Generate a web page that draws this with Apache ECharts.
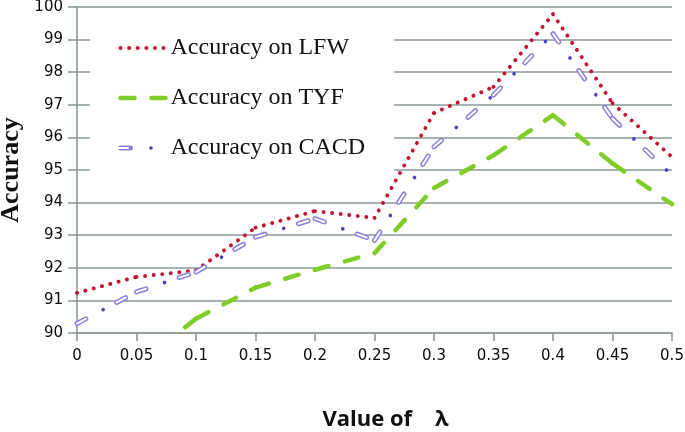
<!DOCTYPE html>
<html><head><meta charset="utf-8">
<script src="https://cdn.jsdelivr.net/npm/echarts@6/dist/echarts.min.js"></script>
<style>html,body{margin:0;padding:0;background:#fff}#c{width:685px;height:432px}</style>
</head><body><div id="c"></div>
<script>
// ---- data ----
const categories = ['0','0.05','0.1','0.15','0.2','0.25','0.3','0.35','0.4','0.45','0.5'];
const lfw  = [91.23, 91.72, 91.92, 93.23, 93.74, 93.53, 96.75, 97.55, 99.78, 97.05, 95.4];
const tyf  = [88.2, 89.0, 90.44, 91.39, 91.94, 92.45, 94.45, 95.45, 96.68, 95.2, 93.95];
const cacd = [90.29, 91.26, 91.87, 92.94, 93.51, 92.84, 95.71, 97.3, 99.18, 96.58, 94.84];
const seriesNames = ['Accuracy on LFW', 'Accuracy on TYF', 'Accuracy on CACD'];
const yMin = 90, yMax = 100, yStep = 1;
const xTitle = 'Value of    λ';
const yTitle = 'Accuracy';

// ---- styles ----
const gridColor = '#8d9898';
const lfwStyle = {color:'#c2152f', width:3.9, type:[0.1, 8.5], cap:'round'};
const tyfStyle = {color:'#80cc28', width:4.5, type:[14, 17], cap:'round'};
const cacdOuter = {color:'#8a80dc', width:5, type:[10, 35], cap:'round'};
const cacdInner = {color:'#ffffff', width:2, type:[10, 35], cap:'round'};
const cacdDot = {color:'#4b3fc9', width:3.6, type:[0.1, 44.9], dashOffset:15.5, cap:'round'};

// Excel restarts the dash pattern on every segment: one line series per segment
function segSeries(name, vals, ls, z) {
  const out = [];
  for (let i = 0; i < vals.length - 1; i++) {
    out.push({
      type:'line', name: name, z: z, silent: true, animation: false,
      symbol:'none', showSymbol:false, connectNulls:false,
      data: vals.map((v, j) => (j === i || j === i + 1) ? v : '-'),
      lineStyle: ls, itemStyle:{color: ls.color}
    });
  }
  return out;
}

const series = [].concat(
  segSeries(seriesNames[0], lfw, lfwStyle, 2),
  segSeries(seriesNames[1], tyf, tyfStyle, 2),
  segSeries(seriesNames[2], cacd, cacdOuter, 3),
  segSeries(seriesNames[2], cacd, cacdInner, 3),
  segSeries(seriesNames[2], cacd, cacdDot, 3)
);

const chart = echarts.init(document.getElementById('c'), null, {renderer:'canvas'});
chart.setOption({
  animation:false,
  backgroundColor:'#fff',
  grid:{left:77, right:13, top:7, bottom:99, containLabel:false, outerBoundsMode:'none'},
  legend:{
    orient:'vertical', left:90, top:20, backgroundColor:'#fff',
    padding:[16, 29, 16, 28], itemGap:26, itemWidth:45, itemHeight:14,
    textStyle:{fontFamily:'Liberation Serif', fontSize:24, color:'#111'},
    itemStyle:{color:'rgba(0,0,0,0)', borderWidth:0, borderColor:'rgba(0,0,0,0)'},
    data:[
      {name:seriesNames[0], lineStyle:{width:3.9}},
      {name:seriesNames[1], lineStyle:{width:4.5}},
      {name:seriesNames[2], lineStyle:{width:5}}
    ]
  },
  xAxis:{
    type:'category', data:categories, boundaryGap:false,
    axisLine:{lineStyle:{color:gridColor, width:1.6}},
    axisTick:{show:true, length:8, alignWithLabel:true, lineStyle:{color:gridColor, width:1.6}},
    axisLabel:{fontFamily:'DejaVu Sans', fontSize:15, color:'#0a0a0a', margin:16},
    splitLine:{show:false},
    name:xTitle, nameLocation:'middle', nameGap:76, nameMoveOverlap:false,
    nameTextStyle:{fontFamily:'Open Sans', fontWeight:'bold', fontSize:22, color:'#111', padding:[0,0,0,22]}
  },
  yAxis:{
    type:'value', min:yMin, max:yMax, interval:yStep,
    axisLine:{show:true, lineStyle:{color:gridColor, width:1.6}},
    axisTick:{show:true, length:9, lineStyle:{color:gridColor, width:1.6}},
    axisLabel:{fontFamily:'DejaVu Sans', fontSize:15, color:'#0a0a0a', margin:14},
    splitLine:{show:true, lineStyle:{color:gridColor, width:1.6}},
    name:yTitle, nameLocation:'middle', nameGap:53, nameRotate:90, nameMoveOverlap:false,
    nameTextStyle:{fontFamily:'Liberation Serif', fontWeight:'bold', fontSize:26, color:'#111'}
  },
  series: series
});

// finish the CACD legend glyph (hollow dash + dot)
chart.setOption({graphic:[
  {type:'line', z:100, shape:{x1:118, y1:148, x2:128, y2:148}, style:{stroke:'#fff', lineWidth:2, lineCap:'round'}},
  {type:'circle', z:100, shape:{cx:151, cy:148, r:1.8}, style:{fill:'#4b3fc9'}}
]});
</script>
</body></html>
